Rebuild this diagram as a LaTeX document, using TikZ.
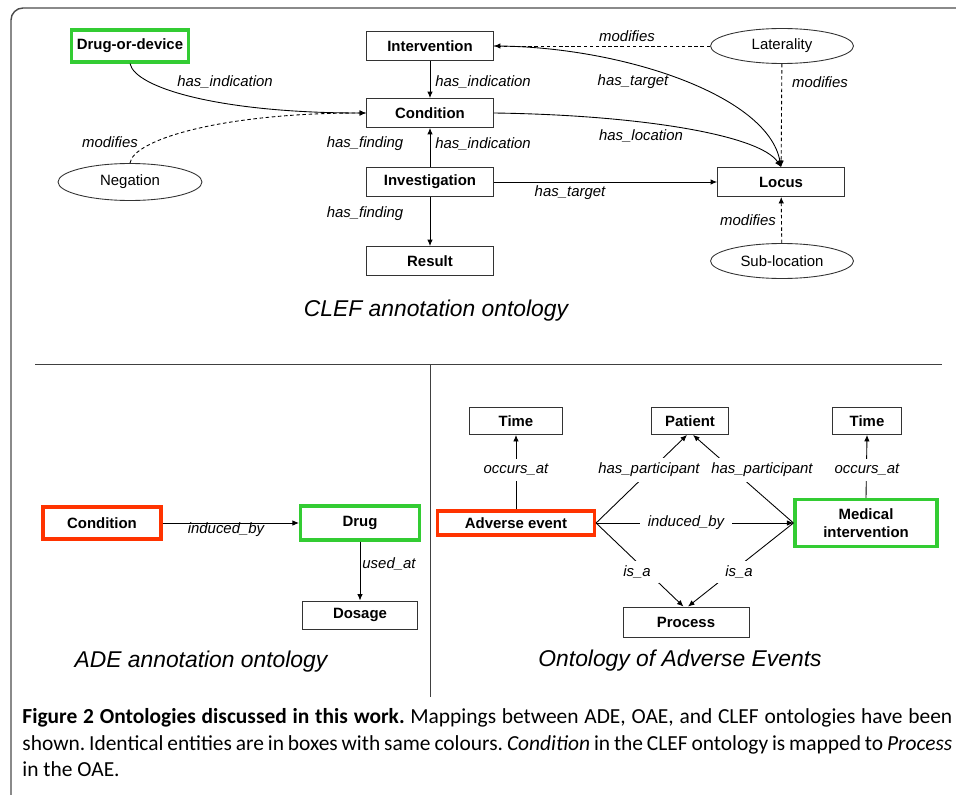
\documentclass[tikz,border=0pt]{standalone}
\usepackage{fontspec}
\setmainfont{Liberation Sans}
\newfontfamily\capfont{Carlito}
\usetikzlibrary{arrows.meta,shapes.geometric}
\definecolor{mapgreen}{RGB}{51,204,51}
\definecolor{mapred}{RGB}{255,51,0}
\frenchspacing
\tikzset{
  >={Latex[length=1.3mm,width=1.1mm]},
  concept/.style={draw=black!80, line width=0.5pt, font=\bfseries\fontsize{8.5}{10}\selectfont,
    inner sep=0pt, minimum width=2.54cm, minimum height=0.58cm, align=center},
  greenbox/.style={concept, draw=mapgreen, line width=1.8pt},
  redbox/.style={concept, draw=mapred, line width=1.8pt},
  modifier/.style={draw=black!80, line width=0.5pt, ellipse, inner sep=0pt,
    font=\fontsize{8.5}{10}\selectfont, minimum width=2.86cm, minimum height=0.70cm},
  rel/.style={font=\itshape\fontsize{8.5}{10}\selectfont, inner sep=1pt},
  cutrel/.style={rel, fill=white, inner xsep=0.16cm, inner ysep=0.1cm},
  onto/.style={font=\itshape\fontsize{13}{15}\selectfont},
  modline/.style={dash pattern=on 2pt off 1.5pt},
  capline/.style={anchor=base west, inner sep=0pt, font=\capfont\fontsize{12.2}{14}\selectfont}
}
\begin{document}
\begin{tikzpicture}[x=0.02cm,y=-0.02cm,line width=0.5pt]
  \useasboundingbox (0,0) rectangle (956,794);
  \clip (0,0) rectangle (956,794);
  % frame and dividers
  \draw[black!70, line width=0.8pt, rounded corners=0.24cm] (11,810) -- (11,8) -- (970,8);
  \draw[black!75] (35,364) -- (942,364);
  \draw[black!75] (430,364) -- (430,697);

  % CLEF annotation ontology
  \node[greenbox, minimum width=2.34cm, minimum height=0.64cm] (drugdev) at (130,46) {Drug-or-device};
  \node[concept] (interv) at (430,46) {Intervention};
  \node[concept] (cond) at (430,113) {Condition};
  \node[concept] (invest) at (430,182) {Investigation};
  \node[concept] (result) at (430,261) {Result};
  \node[concept] (locus) at (781,182) {Locus};
  \node[modifier, minimum width=2.88cm, minimum height=0.74cm] (negation) at (130,182) {Negation};
  \node[modifier] (lateral) at (782,46) {Laterality};
  \node[modifier] (subloc) at (782,261) {Sub-location};

  \draw[->] (drugdev.south) .. controls (135,88) and (220,113) .. (cond.west);
  \draw[->, modline] (negation.north) .. controls (133,140) and (220,113) .. (cond.west);
  \draw[->] (interv) -- (cond);
  \draw[->] (invest) -- (cond);
  \draw[->] (invest) -- (result);
  \draw[->] (invest) -- (locus);
  \draw[->] (cond.east) .. controls (640,115) and (760,135) .. (locus.north);
  \draw[->] (interv.east) .. controls (620,46) and (768,95) .. (locus.north);
  \draw[->, modline] (lateral) -- (interv);
  \draw[->, modline] (lateral) -- (locus);
  \draw[->, modline] (subloc) -- (locus);

  \node[rel] (r1) at (225,82) {has\_indication};
  \node[rel] (r2) at (110,142) {modifies};
  \node[rel] (r3) at (483,82) {has\_indication};
  \node[rel] (r4) at (365,144) {has\_finding};
  \node[rel] (r5) at (483,144) {has\_indication};
  \node[rel] (r6) at (365,214) {has\_finding};
  \node[rel] (r7) at (627,36) {modifies};
  \node[rel] (r8) at (633,82) {has\_target};
  \node[rel] (r9) at (820,82) {modifies};
  \node[rel] (r10) at (641,136) {has\_location};
  \node[rel] (r11) at (570,193) {has\_target};
  \node[rel] (r12) at (748,220) {modifies};
  \node[onto] (clef) at (436,311) {CLEF annotation ontology};

  % ADE annotation ontology
  \node[redbox, minimum width=2.36cm, minimum height=0.64cm] (adecond) at (102,523) {Condition};
  \node[greenbox, minimum width=2.38cm, minimum height=0.68cm] (adedrug) at (360,523) {Drug};
  \node[concept, minimum width=2.30cm, minimum height=0.56cm] (dosage) at (360,615) {Dosage};
  \draw[->] (adecond) -- (adedrug);
  \draw[->] (adedrug) -- (dosage);
  \node[rel] (r13) at (226,530) {induced\_by};
  \node[rel] (r14) at (389,564) {used\_at};
  \node[onto] (ade) at (201,662) {ADE annotation ontology};

  % Ontology of Adverse Events
  \node[concept, minimum width=1.86cm, minimum height=0.54cm] (timeae) at (516,421) {Time};
  \node[concept, minimum width=1.54cm, minimum height=0.54cm] (patient) at (690,421) {Patient};
  \node[concept, minimum width=1.38cm, minimum height=0.54cm] (timemi) at (867,421) {Time};
  \node[redbox, minimum width=3.14cm, minimum height=0.48cm] (adverse) at (516,523) {Adverse event};
  \node[greenbox, minimum width=2.84cm, minimum height=0.94cm] (medint) at (866,523) {Medical\\intervention};
  \node[concept, minimum width=2.52cm, minimum height=0.60cm] (process) at (686,622) {Process};

  \draw[->] (adverse) -- (timeae);
  \draw[->] (medint.north) -- (timemi.south);
  \draw[->] (adverse.east) -- ([xshift=-0.06cm]patient.south);
  \draw[->] (medint.west) -- ([xshift=0.06cm]patient.south);
  \draw[->] (adverse.east) -- (medint.west);
  \draw[->] (adverse.east) -- ([xshift=-0.05cm]process.north);
  \draw[->] (medint.west) -- ([xshift=0.04cm]process.north);

  \node[cutrel] (r15) at (516,470) {occurs\_at};
  \node[cutrel] (r16) at (649,470) {has\_participant};
  \node[cutrel] (r17) at (762,470) {has\_participant};
  \node[cutrel] (r18) at (867,470) {occurs\_at};
  \node[cutrel] (r19) at (686,523) {induced\_by};
  \node[cutrel] (r20) at (637,572) {is\_a};
  \node[cutrel] (r21) at (739,572) {is\_a};
  \node[onto] (oae) at (680,661) {Ontology of Adverse Events};

  % caption
  \node[capline] (cap1) at (22,723) {\makebox[18.6cm][s]{\textbf{Figure 2 Ontologies discussed in this work.} Mappings between ADE, OAE, and CLEF ontologies have been}};
  \node[capline] (cap2) at (22,750) {\makebox[18.6cm][s]{shown. Identical entities are in boxes with same colours. \textit{Condition} in the CLEF ontology is mapped to \textit{Process}}};
  \node[capline] (cap3) at (22,776) {in the OAE.};
\end{tikzpicture}
\end{document}
